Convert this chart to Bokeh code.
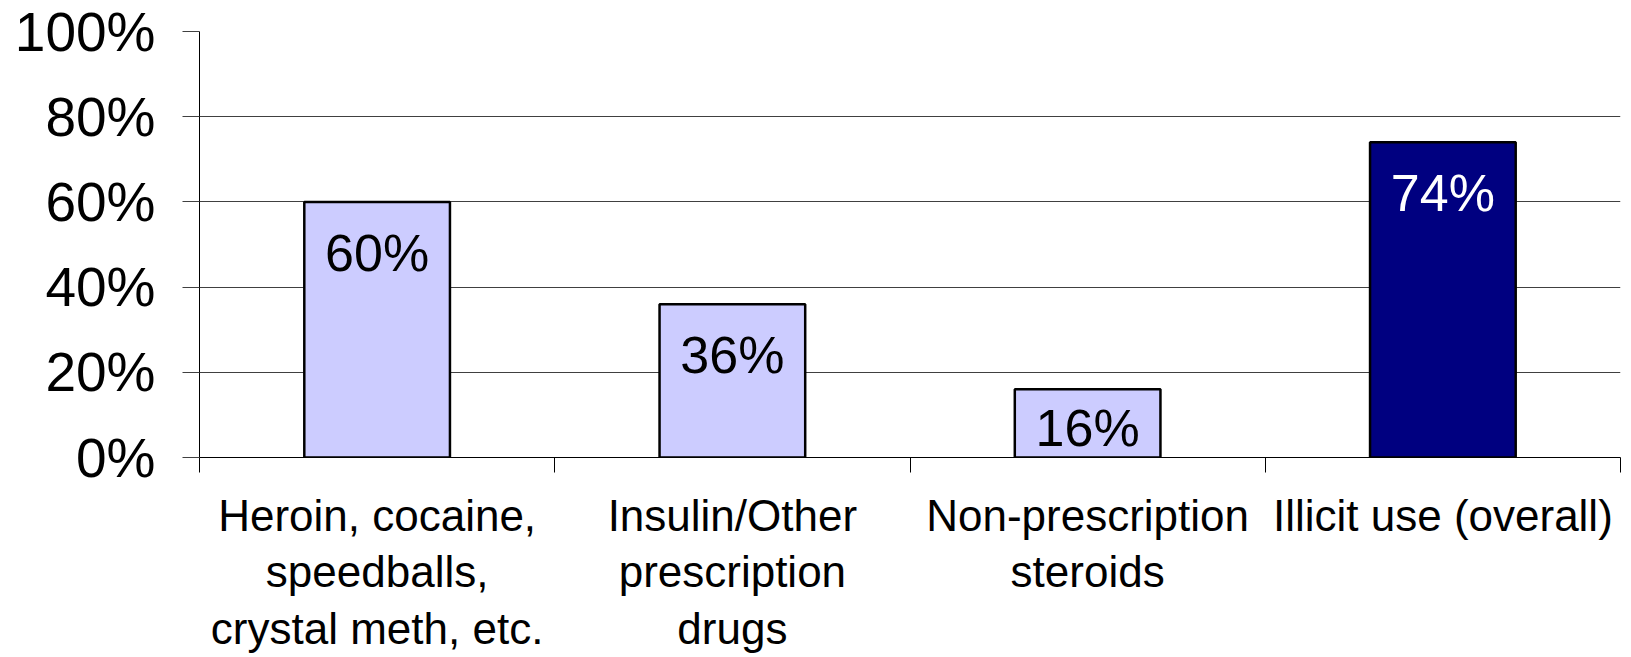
from bokeh.plotting import figure
from bokeh.models import (ColumnDataSource, Range1d, LinearAxis,
                          FixedTicker, PrintfTickFormatter)
from bokeh.embed import file_html
from bokeh.resources import INLINE
from bokeh.core.properties import value

categories = ["Heroin, cocaine,\nspeedballs,\ncrystal meth, etc.",
              "Insulin/Other\nprescription\ndrugs",
              "Non-prescription\nsteroids",
              "Illicit use (overall)"]
values = [60, 36, 16, 74]
bar_colors = ["#CCCCFF", "#CCCCFF", "#CCCCFF", "#000080"]
text_colors = ["black", "black", "black", "white"]
y_ticks = [0, 20, 40, 60, 80, 100]

FONT = "Liberation Sans"

n = len(categories)
centers = [i + 0.5 for i in range(n)]
bounds = list(range(n + 1))

# "inside end" data labels: 12 units below the bar top, kept above the axis
label_y = [max(v - 12, 7) for v in values]

src = ColumnDataSource(dict(
    x=centers,
    val=values,
    ly=label_y,
    color=bar_colors,
    tcolor=text_colors,
    label=[f"{v}%" for v in values],
))

p = figure(width=1631, height=657,
           x_range=Range1d(0, n),
           y_range=Range1d(0, 100),
           x_axis_location=None, y_axis_location=None,
           output_backend="svg", toolbar_location=None,
           min_border_left=199, min_border_top=31,
           min_border_right=11, min_border_bottom=200)
p.outline_line_color = None
p.background_fill_color = "white"
p.border_fill_color = "white"

# y axis
yax = LinearAxis(ticker=FixedTicker(ticks=y_ticks),
                 formatter=PrintfTickFormatter(format="%d%%"))
yax.axis_line_color = "black"
yax.major_tick_out = 17
yax.major_tick_in = 0
yax.major_tick_line_color = "#404040"
yax.minor_tick_line_color = None
yax.major_label_text_font = FONT
yax.major_label_text_font_size = "55px"
yax.major_label_text_color = "black"
yax.major_label_standoff = 27
p.add_layout(yax, "left")

# category separators
sep = LinearAxis(ticker=FixedTicker(ticks=bounds))
sep.axis_line_color = "black"
sep.major_tick_out = 15
sep.major_tick_in = 0
sep.major_tick_line_color = "black"
sep.minor_tick_line_color = None
sep.major_label_text_font_size = "0px"
sep.major_label_text_color = None
sep.major_label_standoff = 0
p.add_layout(sep, "below")

# category labels
cax = LinearAxis(ticker=FixedTicker(ticks=centers))
cax.axis_line_color = None
cax.major_tick_line_color = None
cax.minor_tick_line_color = None
cax.major_label_overrides = {c: lab for c, lab in zip(centers, categories)}
cax.major_label_text_font = FONT
cax.major_label_text_font_size = "44px"
cax.major_label_text_color = "black"
cax.major_label_text_line_height = 1.16
cax.major_label_standoff = 12
cax.major_label_orientation = "horizontal"
p.add_layout(cax, "below")

p.xgrid.grid_line_color = None
p.ygrid.ticker = FixedTicker(ticks=y_ticks)
p.ygrid.grid_line_color = "#404040"
p.ygrid.grid_line_width = 1

p.vbar(x="x", top="val", width=0.41, fill_color="color",
       line_color="black", line_width=2.5, source=src)
p.text(x="x", y="ly", text="label", source=src,
       text_font=value(FONT), text_font_size="52px",
       text_align="center", text_baseline="middle",
       text_color="tcolor")

open("out.html", "w").write(file_html(p, INLINE))
